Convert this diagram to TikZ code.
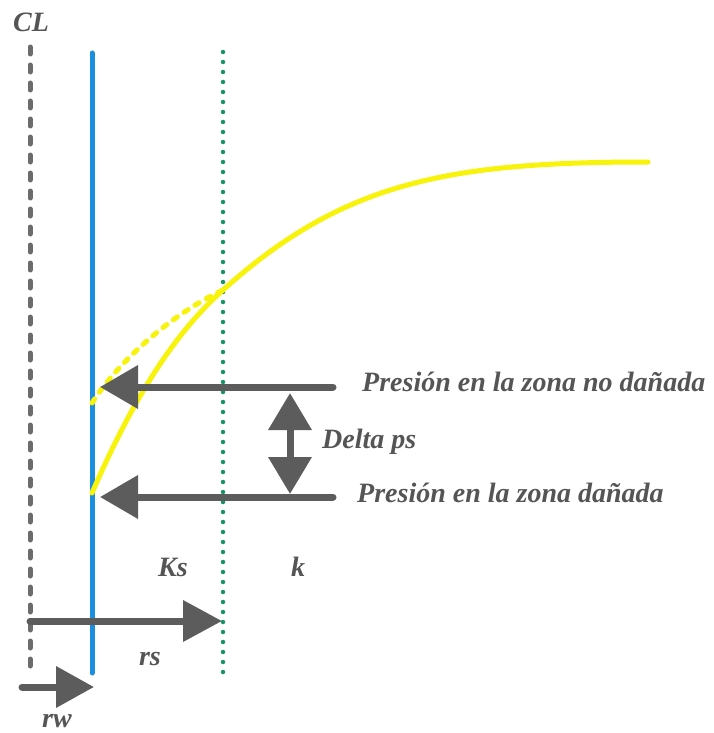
\documentclass[tikz,border=0pt]{standalone}
\usepackage{fontspec}
\setmainfont{Liberation Serif}
\usetikzlibrary{arrows.meta}
\definecolor{cgray}{RGB}{92,92,92}
\definecolor{ctext}{RGB}{85,85,85}
\definecolor{cblue}{RGB}{28,142,222}
\definecolor{cgreen}{RGB}{25,145,105}
\definecolor{cyellow}{RGB}{248,243,10}
\tikzset{
  lbl/.style={text=ctext, font=\fontsize{28}{32}\selectfont\bfseries\itshape, inner sep=0pt},
  bigarrow/.style={draw=cgray, line width=7pt, line cap=round,
     -{Triangle[length=38pt,width=42pt]}},
  dblarrow/.style={draw=cgray, line width=7pt,
     {Triangle[length=37pt,width=42pt]}-{Triangle[length=37pt,width=42pt]}},
  clline/.style={draw=cgray!90, line width=5pt, line cap=round, dash pattern=on 7pt off 11pt},
  wellline/.style={draw=cblue, line width=5pt, line cap=round},
  zoneline/.style={draw=cgreen, line width=4.5pt, line cap=round, dash pattern=on 0pt off 10pt},
  curveline/.style={draw=cyellow, line width=5pt, line cap=round},
  curvedash/.style={draw=cyellow, line width=5pt, line cap=round, dash pattern=on 5pt off 8pt},
}
\begin{document}
\begin{tikzpicture}[x=1pt,y=-1pt]
\useasboundingbox (0,0) rectangle (713,733);
\fill[white] (0,0) rectangle (713,733);
% vertical lines
\coordinate (clt) at (30,47);
\coordinate (clb) at (30,668);
\coordinate (wt) at (92,53);
\coordinate (wb) at (92,673);
\coordinate (zt) at (223,52);
\coordinate (zb) at (223,673);
\draw[clline] (clt) -- (clb);
\draw[wellline] (wt) -- (wb);
\draw[zoneline] (zt) -- (zb);
% pressure curves
\coordinate (c0) at (92,493);
\coordinate (c1) at (223,290);
\coordinate (c2) at (648,162);
\draw[curveline] (c0) .. controls (137,389.5) and (178,330.5) .. (c1)
                      .. controls (343,182) and (448,162) .. (c2);
\coordinate (d0) at (92,403);
\draw[curvedash] (d0) .. controls (118,362) and (170,315) .. (c1);
% pressure arrows
\coordinate (pu1) at (333,387);
\coordinate (pu2) at (100,387);
\coordinate (pd1) at (333,497);
\coordinate (pd2) at (100,497);
\draw[bigarrow] (pu1) -- (pu2);
\draw[bigarrow] (pd1) -- (pd2);
\coordinate (dt) at (290,393);
\coordinate (db) at (290,494);
\draw[dblarrow] (dt) -- (db);
% radius arrows
\coordinate (rs1) at (30,621);
\coordinate (rs2) at (222,621);
\coordinate (rw1) at (22,687);
\coordinate (rw2) at (94,687);
\draw[bigarrow, -{Triangle[length=39pt,width=40pt]}] (rs1) -- (rs2);
\draw[bigarrow, -{Triangle[length=38pt,width=40pt]}] (rw1) -- (rw2);
% labels
\node[lbl] (cl) at (31,22) {CL};
\node[lbl, anchor=base west] (pnd) at (362,391) {Presión en la zona no dañada};
\node[lbl, anchor=base west] (pd) at (357,502) {Presión en la zona dañada};
\node[lbl, anchor=base west] (delta) at (322,448) {Delta ps};
\node[lbl, anchor=base] (ks) at (173,576) {Ks};
\node[lbl, anchor=base] (k) at (298,576) {k};
\node[lbl, anchor=base] (rs) at (150,665) {rs};
\node[lbl, anchor=base] (rw) at (57,727) {rw};
\end{tikzpicture}
\end{document}
